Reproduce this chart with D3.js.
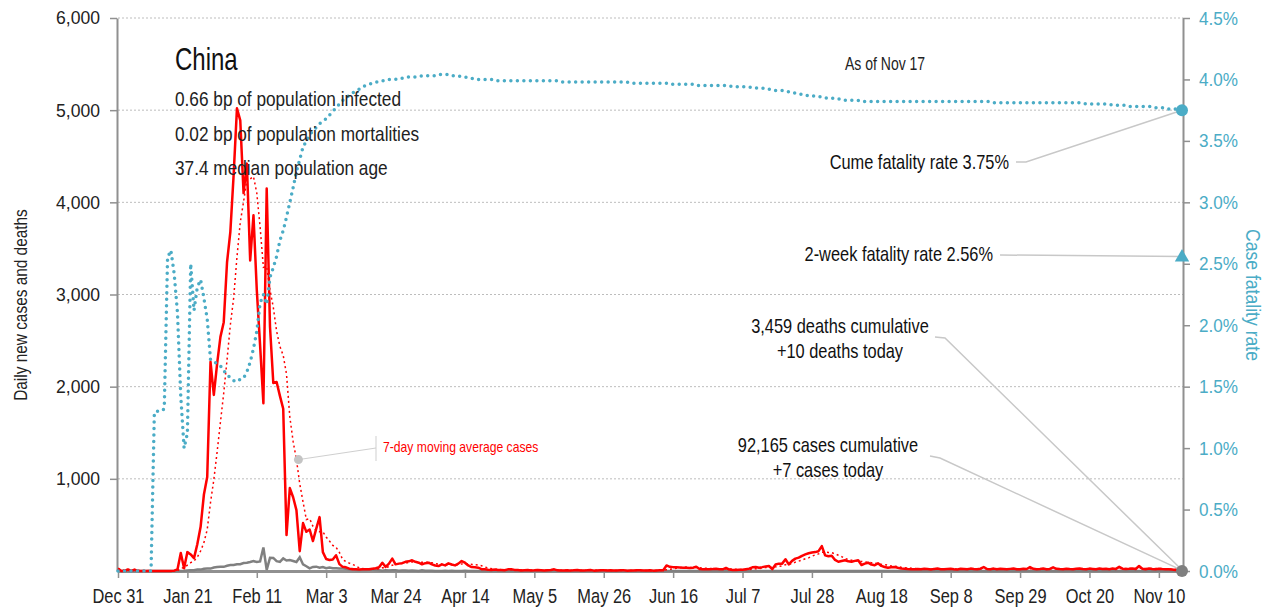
<!DOCTYPE html>
<html>
<head>
<meta charset="utf-8">
<script src="https://cdn.jsdelivr.net/npm/d3@7"></script>
<style>
  body { margin: 0; background: #fff; }
  svg text { font-family: "Liberation Sans", Arial, sans-serif; }
</style>
</head>
<body>
<script>
const width = 1273;
const height = 611;
const margin = {top: 18, right: 91, bottom: 40, left: 118};

// Daily series, one value per day starting Dec 31, 2019
const startDate = "2019-12-31";

const dailyCases = [
  27, 0, 0, 17, 0, 15, 0, 0, 0, 0,
  0, 0, 0, 0, 0, 0, 0, 4, 17, 195,
  30, 205, 180, 140, 290, 480, 830, 1020, 2270, 1910,
  2250, 2540, 2700, 3350, 3680, 4300, 5020, 4890, 4100, 4420,
  3370, 3860, 3050, 2450, 1820, 4150, 2650, 2040, 2050, 1900,
  1760, 390, 900, 800, 660, 215, 520, 425, 450, 325,
  460, 585, 205, 130, 120, 125, 170, 75, 45, 40,
  25, 20, 18, 15, 18, 20, 18, 25, 30, 40,
  90, 45, 80, 135, 72, 80, 85, 100, 105, 116,
  100, 90, 72, 85, 90, 72, 60, 54, 72, 61,
  83, 70, 61, 80, 108, 90, 60, 43, 40, 36,
  20, 18, 14, 12, 15, 10, 12, 8, 18, 20,
  12, 10, 6, 8, 10, 5, 7, 12, 9, 6,
  8, 10, 18, 7, 5, 6, 9, 4, 8, 12,
  6, 5, 7, 10, 4, 6, 8, 9, 5, 7,
  6, 5, 7, 8, 4, 6, 5, 7, 9, 6,
  5, 8, 4, 6, 7, 8, 60, 45, 42, 40,
  38, 36, 34, 32, 36, 47, 22, 20, 18, 20,
  22, 25, 20, 18, 33, 15, 12, 10, 13, 14,
  20, 25, 40, 43, 36, 42, 50, 54, 20, 70,
  80, 80, 127, 72, 110, 134, 145, 165, 180, 192,
  200, 205, 215, 270, 170, 160, 165, 120, 100, 108,
  116, 105, 100, 110, 116, 65, 80, 90, 70, 62,
  83, 55, 43, 36, 40, 43, 35, 28, 25, 22,
  20, 18, 22, 19, 25, 21, 17, 23, 26, 20,
  18, 22, 25, 20, 17, 24, 22, 19, 26, 21,
  18, 25, 43, 22, 20, 26, 19, 24, 21, 18,
  23, 27, 20, 18, 25, 22, 42, 24, 19, 22,
  26, 20, 23, 40, 24, 21, 19, 25, 22, 20,
  24, 28, 21, 19, 26, 23, 20, 27, 22, 24,
  20, 26, 23, 45, 25, 21, 24, 28, 22, 54,
  24, 20, 26, 22, 19, 25, 21, 18, 20, 16,
  12, 10, 7
];

const dailyDeaths = [
  0, 0, 0, 0, 0, 0, 0, 0, 0, 0,
  0, 1, 0, 0, 0, 0, 0, 0, 0, 1,
  3, 6, 9, 8, 16, 15, 24, 26, 26, 38,
  43, 46, 45, 57, 64, 65, 73, 73, 86, 89,
  97, 108, 97, 103, 255, 13, 143, 142, 106, 98,
  136, 114, 118, 109, 97, 150, 71, 52, 29, 44,
  47, 35, 42, 31, 38, 31, 30, 28, 27, 23,
  17, 22, 11, 7, 14, 10, 14, 13, 11, 8,
  3, 7, 6, 9, 7, 4, 6, 5, 3, 5,
  4, 1, 7, 2, 2, 3, 1, 0, 1, 2,
  1, 2, 1, 0, 1, 2, 0, 0, 1, 0,
  0, 0, 0, 0, 0, 0, 0, 0, 0, 0,
  0, 0, 0, 0, 0, 0, 0, 0, 0, 0,
  0, 0, 0, 0, 0, 0, 0, 0, 0, 0,
  0, 0, 0, 0, 0, 0, 0, 0, 0, 0,
  0, 0, 0, 0, 0, 0, 0, 0, 0, 0,
  0, 0, 0, 0, 0, 0, 0, 0, 0, 0,
  0, 0, 0, 0, 0, 0, 0, 0, 0, 0,
  0, 0, 0, 0, 0, 0, 0, 0, 0, 0,
  0, 0, 0, 0, 0, 0, 0, 0, 0, 0,
  0, 0, 0, 0, 0, 0, 0, 0, 0, 0,
  0, 0, 0, 0, 0, 0, 0, 0, 0, 0,
  0, 0, 0, 0, 0, 0, 0, 0, 0, 0,
  0, 0, 0, 0, 0, 0, 0, 0, 0, 0,
  0, 0, 0, 0, 0, 0, 0, 0, 0, 0,
  0, 0, 0, 0, 0, 0, 0, 0, 0, 0,
  0, 0, 0, 0, 0, 0, 0, 0, 0, 0,
  0, 0, 0, 0, 0, 0, 0, 0, 0, 0,
  0, 0, 0, 0, 0, 0, 0, 0, 0, 0,
  0, 0, 0, 0, 0, 0, 0, 0, 0, 0,
  0, 0, 0, 0, 0, 0, 0, 0, 0, 0,
  0, 0, 0, 0, 0, 0, 0, 0, 0, 0,
  0, 0, 10
];

// Cumulative case fatality rate, percent
const cumeFatality = [
  0, 0, 0, 0, 0, 0, 0, 0, 0, 0,
  0, 1.29, 1.30, 1.30, 1.32, 2.55, 2.61, 2.42, 2.10, 1.42,
  1.00, 1.12, 2.50, 2.12, 2.31, 2.37, 2.22, 2.05, 1.72, 1.70,
  1.69, 1.67, 1.63, 1.60, 1.57, 1.55, 1.54, 1.56, 1.57, 1.62,
  1.70, 1.81, 1.95, 2.18, 2.25, 2.17, 2.39, 2.47, 2.56, 2.69,
  2.77, 2.88, 3.00, 3.12, 3.25, 3.35, 3.45, 3.50, 3.55, 3.58,
  3.61, 3.64, 3.66, 3.68, 3.71, 3.74, 3.77, 3.80, 3.83, 3.85,
  3.87, 3.89, 3.91, 3.92, 3.94, 3.95, 3.96, 3.97, 3.98, 3.98,
  3.99, 3.99, 4.00, 4.00, 4.00, 4.01, 4.01, 4.01, 4.02, 4.02,
  4.02, 4.02, 4.03, 4.03, 4.03, 4.03, 4.03, 4.04, 4.04, 4.04,
  4.04, 4.03, 4.03, 4.03, 4.02, 4.02, 4.01, 4.01, 4.00, 4.00,
  4.00, 4.00, 4.00, 4.00, 4.00, 3.99, 3.99, 3.99, 3.99, 3.99,
  3.99, 3.99, 3.99, 3.99, 3.99, 3.99, 3.99, 3.99, 3.99, 3.99,
  3.99, 3.99, 3.99, 3.99, 3.98, 3.98, 3.98, 3.98, 3.98, 3.98,
  3.98, 3.98, 3.98, 3.98, 3.98, 3.98, 3.98, 3.98, 3.98, 3.98,
  3.98, 3.98, 3.98, 3.98, 3.98, 3.97, 3.97, 3.97, 3.97, 3.97,
  3.97, 3.97, 3.97, 3.97, 3.97, 3.97, 3.97, 3.96, 3.96, 3.96,
  3.96, 3.96, 3.96, 3.96, 3.96, 3.95, 3.95, 3.95, 3.95, 3.95,
  3.95, 3.95, 3.95, 3.95, 3.95, 3.95, 3.94, 3.94, 3.94, 3.94,
  3.94, 3.94, 3.93, 3.93, 3.93, 3.93, 3.92, 3.92, 3.92, 3.91,
  3.91, 3.91, 3.90, 3.90, 3.89, 3.89, 3.88, 3.88, 3.87, 3.87,
  3.87, 3.86, 3.86, 3.86, 3.85, 3.85, 3.85, 3.84, 3.84, 3.84,
  3.83, 3.83, 3.83, 3.83, 3.83, 3.82, 3.82, 3.82, 3.82, 3.82,
  3.82, 3.82, 3.82, 3.82, 3.82, 3.82, 3.82, 3.82, 3.82, 3.82,
  3.82, 3.82, 3.82, 3.82, 3.82, 3.82, 3.82, 3.82, 3.82, 3.82,
  3.82, 3.82, 3.82, 3.82, 3.82, 3.82, 3.82, 3.82, 3.82, 3.82,
  3.82, 3.82, 3.82, 3.82, 3.82, 3.81, 3.81, 3.81, 3.81, 3.81,
  3.81, 3.81, 3.81, 3.81, 3.81, 3.81, 3.81, 3.81, 3.81, 3.81,
  3.81, 3.81, 3.81, 3.81, 3.81, 3.81, 3.81, 3.81, 3.81, 3.81,
  3.81, 3.81, 3.81, 3.80, 3.80, 3.80, 3.80, 3.80, 3.80, 3.80,
  3.80, 3.79, 3.79, 3.79, 3.79, 3.79, 3.78, 3.78, 3.78, 3.78,
  3.78, 3.78, 3.78, 3.78, 3.77, 3.77, 3.77, 3.77, 3.76, 3.76,
  3.76, 3.76, 3.75
];

const twoWeekFatality = 2.56;

const xTickDates = [
  "2019-12-31", "2020-01-21", "2020-02-11", "2020-03-03", "2020-03-24",
  "2020-04-14", "2020-05-05", "2020-05-26", "2020-06-16", "2020-07-07",
  "2020-07-28", "2020-08-18", "2020-09-08", "2020-09-29", "2020-10-20",
  "2020-11-10"
];
const leftTicks = [1000, 2000, 3000, 4000, 5000, 6000];
const rightTicks = [0, 0.5, 1, 1.5, 2, 2.5, 3, 3.5, 4, 4.5];

const infoLines = [
  "0.66 bp of population infected",
  "0.02 bp of population mortalities",
  "37.4 median population age"
];

const teal = "#4bacc6";
const parse = d3.timeParse("%Y-%m-%d");
const start = parse(startDate);

// The reference uses a narrow typeface: squeeze the installed one to match
function condense(sel, k) {
    sel.each(function() {
        let w = this.getComputedTextLength();
        d3.select(this)
            .attr("textLength", w * k)
            .attr("lengthAdjust", "spacingAndGlyphs");
    });
}

// 7-day trailing moving average of the daily cases
const movingAvg = dailyCases.map((v, i) =>
    d3.mean(dailyCases.slice(Math.max(0, i - 6), i + 1)));

const rows = dailyCases.map((c, i) => ({
    date: d3.timeDay.offset(start, i),
    cases: c,
    deaths: dailyDeaths[i],
    avg: movingAvg[i],
    cfr: cumeFatality[i]
}));
const last = rows[rows.length - 1];

let svg = d3.select("body")
    .append("svg")
    .attr("width", width)
    .attr("height", height);

let x = d3.scaleTime()
    .domain([start, last.date])
    .range([margin.left, width - margin.right]);

let y = d3.scaleLinear()
    .domain([0, 6000])
    .range([height - margin.bottom, margin.top]);

let yRight = d3.scaleLinear()
    .domain([0, 4.5])
    .range([height - margin.bottom, margin.top]);

// Dotted gridlines
svg.append("g")
    .selectAll("line")
    .data(leftTicks)
    .join("line")
    .attr("x1", margin.left)
    .attr("x2", width - margin.right + 1)
    .attr("y1", d => y(d))
    .attr("y2", d => y(d))
    .attr("stroke", "#bdbdbd")
    .attr("stroke-width", 1)
    .attr("stroke-dasharray", "2,2");

// Axes
let leftAxis = svg.append("g")
    .attr("transform", `translate(${margin.left - 1}, 0)`)
    .call(d3.axisLeft(y)
        .tickValues(leftTicks)
        .tickFormat(d3.format(","))
        .tickSize(7)
        .tickSizeOuter(0)
        .tickPadding(10));

let rightAxis = svg.append("g")
    .attr("transform", `translate(${width - margin.right + 1}, 0)`)
    .call(d3.axisRight(yRight)
        .tickValues(rightTicks)
        .tickFormat(d => d.toFixed(1) + "%")
        .tickSize(7)
        .tickSizeOuter(0)
        .tickPadding(9));

let bottomAxis = svg.append("g")
    .attr("transform", `translate(0, ${height - margin.bottom})`)
    .call(d3.axisBottom(x)
        .tickValues(xTickDates.map(parse))
        .tickFormat(d3.timeFormat("%b %-d"))
        .tickSize(7)
        .tickSizeOuter(0)
        .tickPadding(10));

[leftAxis, rightAxis, bottomAxis].forEach(g => {
    g.selectAll(".domain").attr("stroke", "#909090").attr("stroke-width", 2);
    g.selectAll(".tick line").attr("stroke", "#909090").attr("stroke-width", 1.5);
    g.selectAll(".tick text").attr("fill", "#222");
});
bottomAxis.select(".domain").attr("stroke-width", 3);
leftAxis.selectAll(".tick text").attr("font-size", 18.5).call(condense, 0.95);
rightAxis.selectAll(".tick text").attr("font-size", 19).attr("fill", teal).call(condense, 0.9);
bottomAxis.selectAll(".tick text").attr("font-size", 20.5).call(condense, 0.8);

// Axis titles
svg.append("text")
    .attr("transform", `translate(27, 305) rotate(-90)`)
    .attr("text-anchor", "middle")
    .attr("font-size", 19)
    .attr("fill", "#222")
    .text("Daily new cases and deaths")
    .call(condense, 0.81);

svg.append("text")
    .attr("transform", `translate(1246, 295) rotate(90)`)
    .attr("text-anchor", "middle")
    .attr("font-size", 20)
    .attr("fill", teal)
    .text("Case fatality rate")
    .call(condense, 0.88);

// Lines
let line = key => d3.line()
    .x(d => x(d.date))
    .y(d => y(d[key]));

svg.append("path")
    .datum(rows)
    .attr("fill", "none")
    .attr("stroke", "#808080")
    .attr("stroke-width", 2.5)
    .attr("d", line("deaths"));

svg.append("path")
    .datum(rows)
    .attr("fill", "none")
    .attr("stroke", "#ff0000")
    .attr("stroke-width", 1.5)
    .attr("stroke-dasharray", "2,3")
    .attr("d", line("avg"));

svg.append("path")
    .datum(rows)
    .attr("fill", "none")
    .attr("stroke", "#ff0000")
    .attr("stroke-width", 2.5)
    .attr("stroke-linejoin", "round")
    .attr("d", line("cases"));

svg.append("path")
    .datum(rows)
    .attr("fill", "none")
    .attr("stroke", teal)
    .attr("stroke-width", 3.5)
    .attr("stroke-linecap", "round")
    .attr("stroke-dasharray", "0,6.5")
    .attr("d", d3.line().x(d => x(d.date)).y(d => yRight(d.cfr)));

// Info block
svg.append("text")
    .attr("x", 175)
    .attr("y", 70)
    .attr("font-size", 32)
    .attr("fill", "#111")
    .text("China")
    .call(condense, 0.75);

svg.append("g")
    .selectAll("text")
    .data(infoLines)
    .join("text")
    .attr("x", 175)
    .attr("y", (d, i) => 106 + i * 34.5)
    .attr("font-size", 21)
    .attr("fill", "#222")
    .text(d => d)
    .call(condense, 0.82);

svg.append("text")
    .attr("x", 845)
    .attr("y", 70)
    .attr("font-size", 17.5)
    .attr("fill", "#222")
    .text("As of Nov 17")
    .call(condense, 0.8);

// Moving average callout
let avgPoint = rows[54];
svg.append("polyline")
    .attr("points", `${x(avgPoint.date) + 2},${y(avgPoint.avg)} 376,448`)
    .attr("fill", "none")
    .attr("stroke", "#cfcfcf")
    .attr("stroke-width", 1);
svg.append("line")
    .attr("x1", 376).attr("x2", 376)
    .attr("y1", 436).attr("y2", 461)
    .attr("stroke", "#cfcfcf");
svg.append("circle")
    .attr("cx", x(avgPoint.date) + 2)
    .attr("cy", y(avgPoint.avg))
    .attr("r", 4.5)
    .attr("fill", "#c4c4c4");
svg.append("text")
    .attr("x", 383)
    .attr("y", 452)
    .attr("font-size", 15)
    .attr("fill", "#ff0000")
    .text("7-day moving average cases")
    .call(condense, 0.81);

// Right-side callouts
let xEnd = x(last.date);
let callouts = [
    {lines: ["Cume fatality rate 3.75%"], x: 1009, y: 169, anchor: "end",
     path: [[1016, 162], [1026, 162], [xEnd, yRight(last.cfr)]]},
    {lines: ["2-week fatality rate 2.56%"], x: 993, y: 261, anchor: "end",
     path: [[1000, 255], [xEnd, yRight(twoWeekFatality)]]},
    {lines: ["3,459 deaths cumulative", "+10 deaths today"], x: 840, y: 333, anchor: "middle",
     path: [[935, 337], [945, 338], [xEnd, y(last.deaths)]]},
    {lines: ["92,165 cases cumulative", "+7 cases today"], x: 828, y: 452, anchor: "middle",
     path: [[930, 456], [940, 458], [xEnd, y(last.cases)]]}
];

callouts.forEach(c => {
    svg.append("path")
        .attr("d", d3.line()(c.path))
        .attr("fill", "none")
        .attr("stroke", "#c8c8c8")
        .attr("stroke-width", 1.5);
    svg.append("g")
        .selectAll("text")
        .data(c.lines)
        .join("text")
        .attr("x", c.x)
        .attr("y", (d, i) => c.y + i * 25)
        .attr("text-anchor", c.anchor)
        .attr("font-size", 21)
        .attr("fill", "#111")
        .text(d => d)
        .call(condense, 0.78);
});

// End markers
svg.append("circle")
    .attr("cx", xEnd)
    .attr("cy", y(0))
    .attr("r", 6)
    .attr("fill", "#7f7f7f");

svg.append("circle")
    .attr("cx", xEnd)
    .attr("cy", yRight(last.cfr))
    .attr("r", 6)
    .attr("fill", teal);

svg.append("path")
    .attr("d", d3.symbol(d3.symbolTriangle, 90)())
    .attr("transform", `translate(${xEnd}, ${yRight(twoWeekFatality) + 1})`)
    .attr("fill", teal);
</script>
</body>
</html>
